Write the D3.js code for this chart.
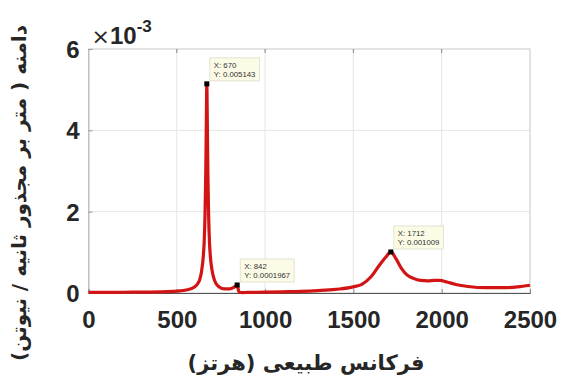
<!DOCTYPE html>
<html>
<head>
<meta charset="utf-8">
<script src="https://cdn.jsdelivr.net/npm/d3@7"></script>
<style>
  html, body { margin: 0; padding: 0; background: #fff; }
  svg { display: block; }
</style>
</head>
<body>
<svg id="chart" width="563" height="381"></svg>
<script>
// Frequency response: amplitude (m/s^2 per N) versus natural frequency (Hz)
const freq = [0, 100, 200, 300, 400, 500, 560, 600, 620, 630, 640, 650, 655, 660, 664, 667, 670,
  673, 676, 680, 685, 690, 700, 710, 720, 740, 770, 800, 820, 835, 842, 848, 855, 870, 900,
  1000, 1100, 1200, 1300, 1400, 1500, 1550, 1600, 1650, 1685, 1712, 1740, 1770, 1800, 1840,
  1880, 1920, 1960, 1990, 2030, 2080, 2150, 2250, 2350, 2430, 2500];
const amplitude = [0.000015, 0.000016, 0.000018, 0.000022, 0.000028, 0.000045, 0.00008, 0.00015,
  0.00024, 0.00033, 0.00053, 0.0009, 0.00125, 0.00195, 0.00295, 0.0041, 0.005143,
  0.0041, 0.00295, 0.00195, 0.00125, 0.0009, 0.00055, 0.00036, 0.00025, 0.00015, 0.0001, 0.0001,
  0.00013, 0.00018, 0.0001967, 0.00008, 0.00002, 0.00001, 0.000015,
  0.00002, 0.00003, 0.00004, 0.00006, 0.00009, 0.00015, 0.00022, 0.0004, 0.0007, 0.00089,
  0.001009, 0.00085, 0.00062, 0.00046, 0.00036, 0.00031, 0.0003, 0.00031, 0.00031, 0.00027,
  0.00021, 0.00016, 0.00013, 0.00013, 0.00015, 0.00019];

// Marked points (data tips)
const tipX = [670, 842, 1712];
const tipY = [0.005143, 0.0001967, 0.001009];
const tipYText = ["0.005143", "0.0001967", "0.001009"];

const xTicks = [0, 500, 1000, 1500, 2000, 2500];
const yTicks = [0, 0.002, 0.004, 0.006];

const xLabel = "فرکانس طبیعی (هرتز)";
const yLabel = "دامنه ( متر بر مجذور ثانیه / نیوتن)";

const svg = d3.select("#chart");
const plotL = 88.5, plotR = 530, plotT = 49, plotB = 293;

const x = d3.scaleLinear().domain([0, 2500]).range([plotL, plotR]);
const y = d3.scaleLinear().domain([0, 0.006]).range([plotB, plotT]);

// grid
const grid = svg.append("g").attr("stroke", "#e4e4e4").attr("stroke-width", 1);
xTicks.slice(1, -1).forEach(t => {
  grid.append("line").attr("x1", x(t)).attr("x2", x(t)).attr("y1", plotT).attr("y2", plotB);
});
yTicks.slice(1, -1).forEach(t => {
  grid.append("line").attr("x1", plotL).attr("x2", plotR).attr("y1", y(t)).attr("y2", y(t));
});

// box
svg.append("rect")
  .attr("x", plotL).attr("y", plotT)
  .attr("width", plotR - plotL).attr("height", plotB - plotT)
  .attr("fill", "none").attr("stroke", "#c8c8c8").attr("stroke-width", 1);

// axes
const xAxis = d3.axisBottom(x).tickValues(xTicks).tickSize(-4).tickPadding(18)
  .tickFormat(d3.format("d"));
const gx = svg.append("g").attr("transform", `translate(0,${plotB})`).call(xAxis);
gx.select(".domain").attr("stroke", "#555");
gx.selectAll(".tick line").attr("stroke", "#888");
gx.selectAll("text")
  .attr("font-family", "Liberation Sans, Arial, sans-serif")
  .attr("font-weight", "bold").attr("font-size", 24).attr("fill", "#262626");

const yAxis = d3.axisLeft(y).tickValues(yTicks).tickSize(-4).tickPadding(9)
  .tickFormat(d => d3.format("d")(Math.round(d * 1000)));
const gy = svg.append("g").attr("transform", `translate(${plotL},0)`).call(yAxis);
gy.select(".domain").attr("stroke", "#bbb");
gy.selectAll(".tick line").attr("stroke", "#999");
gy.selectAll("text")
  .attr("font-family", "Liberation Sans, Arial, sans-serif")
  .attr("font-weight", "bold").attr("font-size", 24).attr("fill", "#262626")
  .attr("dy", "0.36em");

// top ticks
svg.append("g").selectAll("line").data(xTicks.slice(1, -1)).join("line")
  .attr("x1", d => x(d)).attr("x2", d => x(d))
  .attr("y1", plotT).attr("y2", plotT + 4).attr("stroke", "#888");

// exponent label
const expo = svg.append("text")
  .attr("x", plotL + 3).attr("y", plotT - 5)
  .attr("font-family", "DejaVu Sans, sans-serif")
  .attr("font-size", 22).attr("fill", "#262626");
expo.append("tspan").text("×");
expo.append("tspan").attr("font-family", "Liberation Sans, Arial, sans-serif")
  .attr("font-size", 24).attr("font-weight", "bold").text("10");
expo.append("tspan").attr("dy", -12).attr("font-family", "Liberation Sans, Arial, sans-serif")
  .attr("font-size", 17).attr("font-weight", "bold").text("-3");

// curve
const pts = freq.map((f, i) => [f, amplitude[i]]);
const line = d3.line().x(d => x(d[0])).y(d => y(d[1])).curve(d3.curveMonotoneX);
svg.append("path").datum(pts)
  .attr("d", line)
  .attr("fill", "none").attr("stroke", "#d21414").attr("stroke-width", 3.2)
  .attr("stroke-linejoin", "round");

// data tips
tipX.forEach((fx, i) => {
  const mx = x(fx), my = y(tipY[i]);
  svg.append("rect").attr("x", mx - 2.5).attr("y", my - 2.5)
    .attr("width", 5).attr("height", 5).attr("fill", "#000");
  const g = svg.append("g");
  const t = g.append("text")
    .attr("font-family", "Liberation Sans, Arial, sans-serif")
    .attr("font-size", 7.8).attr("fill", "#333");
  t.append("tspan").attr("x", mx + 7).attr("y", my - 16).text("X: " + fx);
  t.append("tspan").attr("x", mx + 7).attr("y", my - 7).text("Y: " + tipYText[i]);
  const bb = t.node().getBBox();
  g.insert("rect", "text")
    .attr("x", mx + 3).attr("y", bb.y - 3)
    .attr("width", bb.width + 8).attr("height", bb.height + 5)
    .attr("fill", "#fbfbe6").attr("stroke", "#dcdcc8").attr("stroke-width", 0.8);
});

// axis titles
svg.append("text")
  .attr("x", 306).attr("y", 370)
  .attr("text-anchor", "middle")
  .attr("font-family", "DejaVu Sans, sans-serif")
  .attr("font-weight", "bold").attr("font-size", 21).attr("fill", "#262626")
  .attr("direction", "rtl")
  .text(xLabel);

svg.append("text")
  .attr("transform", `translate(26,${(plotT + plotB) / 2 + 22}) rotate(-90)`)
  .attr("text-anchor", "middle")
  .attr("font-family", "DejaVu Sans, sans-serif")
  .attr("font-weight", "bold").attr("font-size", 20).attr("fill", "#262626")
  .attr("direction", "rtl")
  .text(yLabel);
</script>
</body>
</html>
